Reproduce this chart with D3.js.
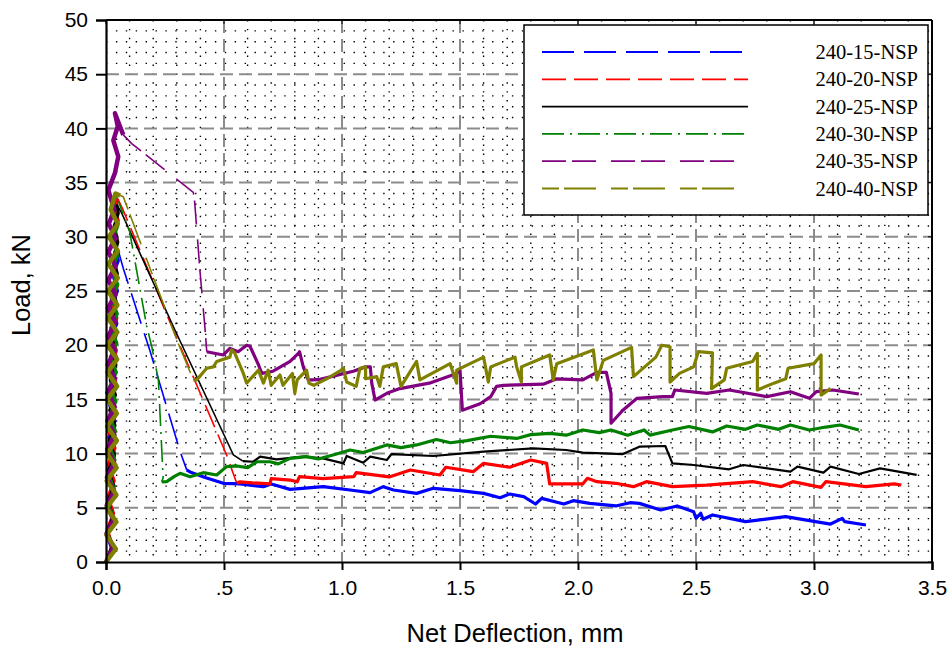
<!DOCTYPE html>
<html>
<head>
<meta charset="utf-8">
<script src="https://cdn.jsdelivr.net/npm/d3@7"></script>
<style>
  body { margin: 0; background: #fff; }
  svg { display: block; }
</style>
</head>
<body>
<svg id="chart" width="951" height="648"></svg>
<script>
// series names / colours / dash styles, same order as legend
var names = ["240-15-NSP", "240-20-NSP", "240-25-NSP", "240-30-NSP", "240-35-NSP", "240-40-NSP"];
var colors = ["#0000ff", "#ff0000", "#000000", "#008000", "#800080", "#808000"];
var dashes = ["32,10", "24,8", null, "22,6,2,6", "24,6,24,15", "17,5,32,15"];

var xTicks = [0, 0.5, 1.0, 1.5, 2.0, 2.5, 3.0, 3.5];
var yTicks = [0, 5, 10, 15, 20, 25, 30, 35, 40, 45, 50];

// [deflection mm, load kN]
// rise = loading zigzag up to peak, drop = fast unloading, post = residual part
var rise15 = [[0,0],[0.025,1.2],[0.004,2.5],[0.03,4],[0.006,5.5],[0.034,7],[0.01,8.5],[0.036,10],[0.012,11.5],[0.038,13],[0.015,14.5],[0.04,16],[0.018,17.5],[0.042,19],[0.02,20.5],[0.046,22],[0.025,23.5],[0.048,25],[0.03,26.5],[0.052,27.8],[0.04,29.2],[0.055,28.5]];
var drop15 = [[0.055,28.5],[0.073,27.1],[0.186,19.5],[0.314,10.2],[0.342,8.5]];
var post15 = [[0.342,8.5],[0.356,8.3],[0.42,7.8],[0.497,7.26],[0.568,7.2],[0.667,6.95],[0.70,7.2],[0.78,6.7],[0.92,6.95],[1.034,6.64],[1.119,6.4],[1.175,6.95],[1.218,6.64],[1.316,6.33],[1.387,6.8],[1.5,6.58],[1.6,6.33],[1.67,5.93],[1.71,6.27],[1.77,6.03],[1.82,5.35],[1.846,5.87],[1.94,5.35],[1.98,5.66],[2.05,5.41],[2.16,5.17],[2.22,5.47],[2.26,5.41],[2.35,4.8],[2.42,5.17],[2.49,4.64],[2.50,4.03],[2.52,4.5],[2.53,3.94],[2.57,4.34],[2.71,3.72],[2.88,4.18],[3.07,3.5],[3.12,4.03],[3.13,3.72],[3.22,3.41]];

var rise20 = [[0,0],[0.028,1.5],[0.005,3],[0.032,4.5],[0.008,6],[0.035,7.5],[0.01,9],[0.038,10.5],[0.012,12],[0.04,13.5],[0.015,15],[0.042,16.5],[0.018,18],[0.044,19.5],[0.02,21],[0.046,22.5],[0.022,24],[0.048,25.5],[0.025,27],[0.05,28.5],[0.03,30],[0.052,31.5],[0.035,32.5],[0.05,33.5]];
var drop20 = [[0.05,33.5],[0.07,32.6],[0.285,21.4],[0.511,9.87],[0.554,7.26]];
var post20 = [[0.554,7.26],[0.568,7.4],[0.62,7.3],[0.695,7.2],[0.70,7.7],[0.78,7.56],[0.81,7.4],[0.82,7.87],[0.92,7.7],[1.05,7.87],[1.06,8.24],[1.2,7.85],[1.29,8.49],[1.415,8.03],[1.44,8.74],[1.556,8.33],[1.6,9.1],[1.71,8.74],[1.8,9.41],[1.867,9.1],[1.88,7.2],[2.02,7.2],[2.04,7.72],[2.08,7.41],[2.16,7.26],[2.235,6.95],[2.29,7.41],[2.40,6.95],[2.545,7.1],[2.74,7.41],[2.86,6.95],[2.91,7.41],[3.03,6.89],[3.05,7.41],[3.22,6.95],[3.34,7.2],[3.37,7.1]];

var rise25 = [[0,0],[0.024,1.4],[0.006,2.8],[0.03,4.2],[0.008,5.6],[0.033,7],[0.01,8.4],[0.036,9.8],[0.013,11.2],[0.038,12.6],[0.016,14],[0.04,15.4],[0.018,16.8],[0.042,18.2],[0.02,19.6],[0.044,21],[0.023,22.4],[0.046,23.8],[0.026,25.2],[0.048,26.6],[0.03,28],[0.05,29.5],[0.035,31],[0.052,32.2],[0.045,33]];
var drop25 = [[0.045,33],[0.066,32.2],[0.292,21.4],[0.54,9.87],[0.58,9.3]];
var post25 = [[0.58,9.3],[0.624,9.25],[0.653,9.72],[0.723,9.47],[0.836,9.72],[0.92,9.56],[1.006,9.1],[1.02,9.78],[1.09,9.16],[1.12,9.72],[1.19,9.41],[1.21,9.96],[1.387,9.78],[1.6,10.18],[1.81,10.49],[1.95,10.33],[2.02,10.09],[2.19,9.96],[2.26,10.64],[2.37,10.7],[2.40,9.1],[2.49,8.95],[2.64,8.55],[2.70,8.95],[2.90,8.33],[2.93,8.8],[3.04,8.24],[3.07,8.8],[3.19,8.12],[3.28,8.64],[3.435,8.03]];

var rise30 = [[0,0],[0.03,1.3],[0.006,2.7],[0.034,4],[0.008,5.4],[0.036,6.7],[0.01,8.1],[0.038,9.4],[0.012,10.8],[0.04,12.1],[0.014,13.5],[0.042,14.8],[0.016,16.2],[0.044,17.5],[0.018,18.9],[0.046,20.2],[0.02,21.6],[0.048,22.9],[0.022,24.3],[0.05,25.6],[0.024,27],[0.05,28.3],[0.026,29.7],[0.05,31],[0.03,32.4],[0.04,34]];
var drop30 = [[0.04,34],[0.1,30.5],[0.172,21.8],[0.194,19.86],[0.222,16.8],[0.242,7.75],[0.236,7.4]];
var post30 = [[0.236,7.4],[0.257,7.41],[0.29,7.9],[0.314,8.18],[0.356,7.87],[0.412,8.24],[0.469,8.03],[0.511,8.8],[0.554,8.86],[0.6,8.7],[0.64,9.25],[0.695,9.25],[0.73,9.05],[0.78,9.56],[0.85,9.72],[0.9,9.5],[0.977,9.96],[1.034,10.33],[1.09,10.1],[1.147,10.49],[1.19,10.8],[1.25,10.55],[1.316,10.8],[1.40,11.3],[1.46,11.0],[1.53,11.2],[1.63,11.6],[1.74,11.4],[1.8,11.75],[1.88,11.87],[1.95,11.7],[2.02,12.18],[2.09,11.93],[2.14,12.18],[2.21,11.7],[2.28,12.18],[2.305,11.7],[2.40,12.18],[2.47,12.5],[2.57,12.0],[2.63,12.55],[2.71,12.24],[2.76,12.64],[2.85,12.24],[2.90,12.64],[2.98,12.18],[3.05,12.45],[3.11,12.64],[3.19,12.18]];

var rise35 = [[0,0],[0.03,1.3],[0.002,2.6],[0.032,3.9],[0.003,5.2],[0.034,6.5],[0.004,7.8],[0.035,9.1],[0.005,10.4],[0.036,11.7],[0.006,13],[0.037,14.3],[0.006,15.6],[0.038,16.9],[0.007,18.2],[0.038,19.5],[0.008,20.8],[0.04,22.1],[0.008,23.4],[0.04,24.7],[0.01,26],[0.04,27.3],[0.01,28.6],[0.04,29.9],[0.012,31.2],[0.035,32.5],[0.01,34.3],[0.038,35.9],[0.052,37.4],[0.031,38.9],[0.05,40.2],[0.038,41.4],[0.059,40.2],[0.073,39.4]];
var drop35 = [[0.073,39.4],[0.109,38.6],[0.37,34.1],[0.375,33.4],[0.398,26.9],[0.42,21.4],[0.427,19.4]];
var post35 = [[0.427,19.4],[0.497,19.1],[0.525,19.7],[0.56,19.4],[0.596,20.0],[0.61,19.9],[0.646,18.2],[0.66,17.4],[0.708,17.6],[0.78,18.5],[0.815,19.25],[0.82,19.4],[0.836,18.0],[0.857,16.8],[0.88,16.8],[0.907,16.85],[1.048,17.6],[1.10,18.0],[1.12,18.0],[1.126,16.5],[1.14,14.94],[1.19,15.56],[1.245,16.0],[1.37,16.5],[1.486,17.4],[1.5,17.7],[1.51,14.0],[1.585,14.6],[1.63,15.25],[1.655,16.2],[1.684,16.3],[1.853,16.4],[1.91,16.9],[2.02,16.8],[2.08,17.5],[2.12,17.5],[2.14,15.56],[2.14,12.8],[2.19,14.0],[2.25,15.1],[2.36,15.25],[2.40,15.25],[2.41,15.87],[2.545,15.56],[2.64,15.87],[2.80,15.25],[2.90,15.71],[2.98,15.1],[3.01,15.71],[3.08,15.87],[3.19,15.5]];

var rise40 = [[0,0],[0.042,1.2],[0.002,2.5],[0.044,3.7],[0.002,5],[0.044,6.2],[0.003,7.5],[0.045,8.7],[0.004,10],[0.046,11.2],[0.005,12.5],[0.046,13.7],[0.005,15],[0.047,16.2],[0.006,17.5],[0.047,18.7],[0.006,20],[0.048,21.2],[0.008,22.5],[0.048,23.7],[0.008,25],[0.05,26.2],[0.01,27.5],[0.05,28.7],[0.012,30],[0.05,31.2],[0.02,32.5],[0.04,34],[0.06,33.8]];
var drop40 = [[0.06,33.8],[0.073,33.7],[0.3,20.5],[0.37,16.8]];
var post40 = [[0.37,16.8],[0.384,16.8],[0.427,17.87],[0.455,18.0],[0.469,18.5],[0.525,18.9],[0.532,19.56],[0.545,19.3],[0.582,17.4],[0.596,16.5],[0.646,17.7],[0.667,16.5],[0.687,17.7],[0.70,16.3],[0.737,17.25],[0.75,16.3],[0.79,17.4],[0.80,15.56],[0.81,16.8],[0.85,17.7],[0.86,16.5],[0.88,16.3],[0.935,16.9],[0.99,17.6],[1.006,17.87],[1.02,16.6],[1.06,16.2],[1.076,17.87],[1.10,18.0],[1.10,16.9],[1.147,17.1],[1.16,16.2],[1.175,18.0],[1.23,18.3],[1.25,16.2],[1.316,18.5],[1.33,16.8],[1.458,18.3],[1.486,16.5],[1.486,17.7],[1.6,18.9],[1.62,16.6],[1.63,18.0],[1.733,18.9],[1.74,18.0],[1.76,16.6],[1.76,18.0],[1.88,19.1],[1.895,16.8],[1.91,18.3],[2.065,19.56],[2.08,16.8],[2.107,18.6],[2.227,19.8],[2.235,17.1],[2.33,18.9],[2.355,20.0],[2.39,19.86],[2.39,16.6],[2.43,17.4],[2.49,18.0],[2.51,19.4],[2.57,19.3],[2.566,16.0],[2.62,16.8],[2.63,17.87],[2.74,18.5],[2.76,19.25],[2.76,15.87],[2.83,16.5],[2.88,16.9],[2.89,17.87],[3.0,18.3],[3.03,19.1],[3.03,17.25],[3.03,15.4],[3.07,16.0]];

var rises = [rise15, rise20, rise25, rise30, rise35, rise40];
var drops = [drop15, drop20, drop25, drop30, drop35, drop40];
var posts = [post15, post20, post25, post30, post35, post40];

var margin = {top: 20, right: 19, bottom: 86, left: 106};
var W = 951, H = 648;
var w = W - margin.left - margin.right;
var h = H - margin.top - margin.bottom;

var svg = d3.select("#chart");
var g = svg.append("g").attr("transform", "translate(" + margin.left + "," + margin.top + ")");

var x = d3.scaleLinear().domain([0, 3.5]).range([0, w]);
var y = d3.scaleLinear().domain([0, 50]).range([h, 0]);

// minor dotted grid (0.1 mm / 1 kN)
var minorX = d3.range(1, 35).filter(function(i) { return i % 5 != 0; }).map(function(i) { return i / 10; });
var minorY = d3.range(1, 50).filter(function(i) { return i % 5 != 0; });

g.selectAll(".mx").data(minorX).enter().append("line")
  .attr("x1", function(d) { return x(d); }).attr("x2", function(d) { return x(d); })
  .attr("y1", 0).attr("y2", h)
  .attr("stroke", "#000").attr("stroke-width", 1.4).attr("stroke-dasharray", "1.4,7.5");
g.selectAll(".my").data(minorY).enter().append("line")
  .attr("x1", 0).attr("x2", w)
  .attr("y1", function(d) { return y(d); }).attr("y2", function(d) { return y(d); })
  .attr("stroke", "#000").attr("stroke-width", 1.4).attr("stroke-dasharray", "1.4,8.5");

// major dashed grid
g.selectAll(".gx").data(xTicks.slice(1, -1)).enter().append("line")
  .attr("x1", function(d) { return x(d); }).attr("x2", function(d) { return x(d); })
  .attr("y1", 0).attr("y2", h)
  .attr("stroke", "#8c8c8c").attr("stroke-width", 2).attr("stroke-dasharray", "13,6");
g.selectAll(".gy").data(yTicks.slice(1, -1)).enter().append("line")
  .attr("x1", 0).attr("x2", w)
  .attr("y1", function(d) { return y(d); }).attr("y2", function(d) { return y(d); })
  .attr("stroke", "#8c8c8c").attr("stroke-width", 2).attr("stroke-dasharray", "13,6");

// curves
var line = d3.line().x(function(d) { return x(d[0]); }).y(function(d) { return y(d[1]); });

for (var i = 0; i < names.length; i++) {
  g.append("path").datum(drops[i]).attr("d", line)
    .attr("fill", "none").attr("stroke", colors[i]).attr("stroke-width", 1.6)
    .attr("stroke-dasharray", dashes[i]);
}
for (var i = 0; i < names.length; i++) {
  g.append("path").datum(posts[i]).attr("d", line)
    .attr("fill", "none").attr("stroke", colors[i]).attr("stroke-width", i == 2 ? 2.2 : 3.2)
    .attr("stroke-linejoin", "round");
}
for (var i = 0; i < names.length; i++) {
  g.append("path").datum(rises[i]).attr("d", line)
    .attr("fill", "none").attr("stroke", colors[i]).attr("stroke-width", i >= 4 ? 4.5 : 3.2)
    .attr("stroke-linejoin", "round");
}

// frame
g.append("line").attr("x1", 0).attr("x2", w).attr("y1", 0).attr("y2", 0).attr("stroke", "#000").attr("stroke-width", 2);
g.append("line").attr("x1", w).attr("x2", w).attr("y1", 0).attr("y2", h).attr("stroke", "#000").attr("stroke-width", 2);
g.selectAll(".tt").data(xTicks).enter().append("line")
  .attr("x1", function(d) { return x(d); }).attr("x2", function(d) { return x(d); })
  .attr("y1", 0).attr("y2", 4).attr("stroke", "#000");
g.selectAll(".rt").data(yTicks).enter().append("line")
  .attr("x1", w - 4).attr("x2", w)
  .attr("y1", function(d) { return y(d); }).attr("y2", function(d) { return y(d); }).attr("stroke", "#000");

// axes
var xAxis = d3.axisBottom(x).tickValues(xTicks).tickSize(8).tickPadding(10)
  .tickFormat(function(d) { return d == 0.5 ? ".5" : d3.format(".1f")(d); });
var yAxis = d3.axisLeft(y).tickValues(yTicks).tickSize(10).tickPadding(8);

var gx = g.append("g").attr("transform", "translate(0," + h + ")").call(xAxis);
var gy = g.append("g").call(yAxis);
[gx, gy].forEach(function(a) {
  a.select(".domain").attr("stroke-width", 2.2);
  a.selectAll(".tick line").attr("stroke-width", 2);
  a.selectAll("text").attr("font-family", "'Liberation Sans', Arial, sans-serif")
    .attr("font-size", 21).attr("fill", "#000");
});

svg.append("text")
  .attr("x", margin.left + w / 2 - 4).attr("y", 642)
  .attr("text-anchor", "middle")
  .attr("font-family", "'Liberation Sans', Arial, sans-serif").attr("font-size", 25.5)
  .text("Net Deflection, mm");
svg.append("text")
  .attr("transform", "translate(30," + (margin.top + h / 2 - 6) + ") rotate(-90)")
  .attr("text-anchor", "middle")
  .attr("font-family", "'Liberation Sans', Arial, sans-serif").attr("font-size", 25.5)
  .text("Load, kN");

// legend
var lg = svg.append("g").attr("transform", "translate(524,25)");
lg.append("rect").attr("width", 404).attr("height", 190)
  .attr("fill", "#fff").attr("stroke", "#000").attr("stroke-width", 1.5);
var rows = lg.selectAll(".row").data(names).enter().append("g")
  .attr("transform", function(d, i) { return "translate(0," + (27 + i * 27.3) + ")"; });
rows.append("line").attr("x1", 18).attr("x2", 224).attr("y1", 0).attr("y2", 0)
  .attr("stroke", function(d, i) { return colors[i]; }).attr("stroke-width", 1.8)
  .attr("stroke-dasharray", function(d, i) { return dashes[i]; });
rows.append("text").attr("x", 394).attr("y", 7).attr("text-anchor", "end")
  .attr("font-family", "'Liberation Serif', 'Times New Roman', serif").attr("font-size", 20.5)
  .text(function(d) { return d; });
</script>
</body>
</html>
